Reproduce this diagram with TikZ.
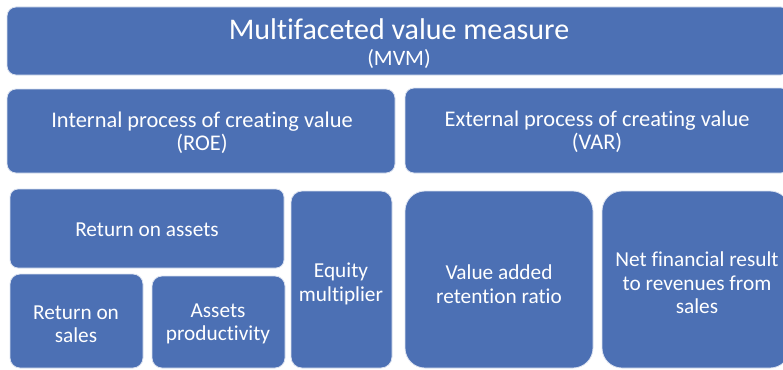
\documentclass[tikz,border=0pt]{standalone}
\usepackage{fontspec}
\setmainfont{Carlito}[Ligatures=NoCommon]
\definecolor{boxblue}{RGB}{76,112,180}
\begin{document}
\begin{tikzpicture}[x=1pt,y=-1pt,
  box/.style={fill=boxblue, draw=white!80!boxblue, line width=0.8pt},
  lbl/.style={text=white, align=center, inner sep=0pt},
  t2/.style={font=\fontsize{22.4}{23}\selectfont},
  t3/.style={font=\fontsize{21.3}{23.5}\selectfont}]
\useasboundingbox (0,0) rectangle (783,369);
\path[box, rounded corners=9] (7,7) rectangle (790,75);
\node[lbl, font=\fontsize{30}{29}\selectfont] (mvm) at (399,44) {Multifaceted value measure\\[-3pt]{\fontsize{22}{29}\selectfont (MVM)}};
\path[box, rounded corners=9] (7,89) rectangle (395,173);
\node[lbl, t2] (roe) at (202,133) {Internal process of creating value\\(ROE)};
\path[box, rounded corners=9] (405,88) rectangle (790,173);
\node[lbl, t2] (var) at (597,132) {External process of creating value\\(VAR)};
\path[box, rounded corners=8] (10,189) rectangle (284,268);
\node[lbl, t3] (roa) at (147,230) {Return on assets};
\path[box, rounded corners=10] (10,274) rectangle (143,368);
\node[lbl, t3] (ros) at (76,324) {Return on\\sales};
\path[box, rounded corners=10] (152,276) rectangle (285,368);
\node[lbl, t3] (ap) at (218,324) {Assets\\productivity};
\path[box, rounded corners=11] (291,191) rectangle (392,368);
\node[lbl, t3] (em) at (341,284) {Equity\\multiplier};
\path[box, rounded corners=20] (405,191) rectangle (593,368);
\node[lbl, t3] (vr) at (499,284) {Value added\\retention ratio};
\path[box, rounded corners=20] (602,191) rectangle (790,368);
\node[lbl, t3] (nf) at (697,283) {Net financial result\\to revenues from\\sales};
\end{tikzpicture}
\end{document}
